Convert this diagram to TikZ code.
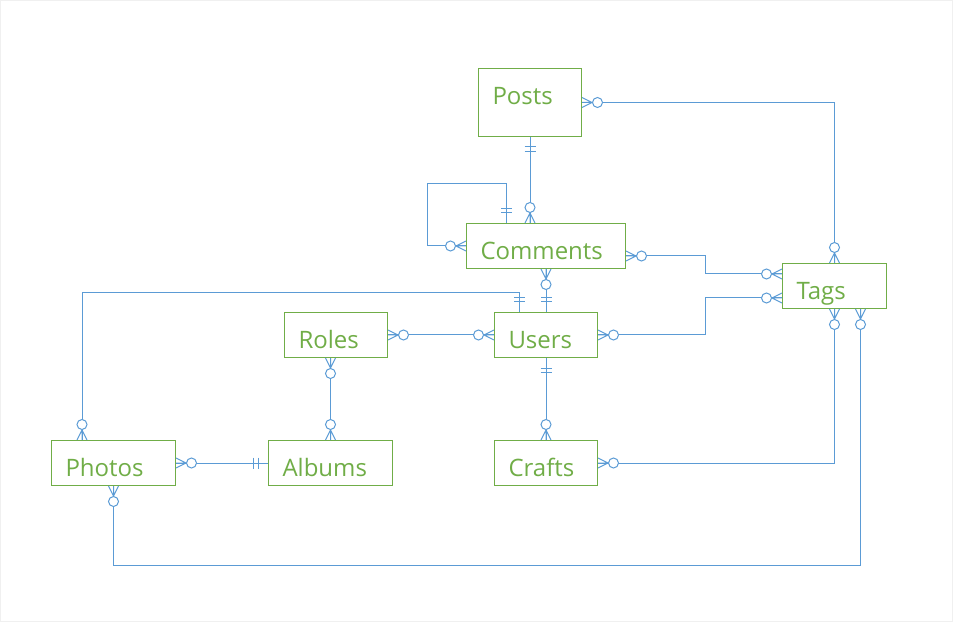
\documentclass[tikz,border=0pt]{standalone}
\usepackage{fontspec}
\setmainfont{Open Sans}
\usepackage{tikz}
\definecolor{entgreen}{RGB}{112,173,71}
\definecolor{relblue}{RGB}{91,155,213}
\tikzstyle{entity} = [rectangle, anchor=north west, draw=entgreen, line width=1pt, text=entgreen, font=\fontsize{24}{27}\selectfont, inner xsep=14pt, inner ysep=0pt, text height=27pt, text depth=0pt, minimum height=45pt, align=left]
\tikzstyle{rel} = [draw=relblue, line width=1pt]
\tikzset{
  crowzero/.pic={\draw[rel] (0pt,5pt) -- (10pt,0pt) -- (0pt,-5pt) (0pt,0pt) -- (10pt,0pt);
                 \draw[rel, fill=white] (15.5pt,0pt) circle (5pt);},
  bartwo/.pic={\draw[rel] (10pt,-5.5pt) -- (10pt,5.5pt) (14.5pt,-5.5pt) -- (14.5pt,5.5pt);}
}
\begin{document}
\begin{tikzpicture}[x=1pt, y=1pt]
\useasboundingbox (0,0) rectangle (953,622);
\draw [black!6] (0.5,0.5) rectangle (952.5,621.5);

\node (posts) [entity, text width=75pt, minimum height=68pt, text depth=23pt] at (478,554) {Posts};
\node (comments) [entity, text width=131pt] at (466,399) {Comments};
\node (tags) [entity, text width=76pt] at (782,359) {Tags};
\node (roles) [entity, text width=75pt] at (284,310) {Roles};
\node (users) [entity, text width=75pt] at (494,310) {Users};
\node (photos) [entity, text width=96pt] at (51,182) {Photos};
\node (albums) [entity, text width=96pt] at (268,182) {Albums};
\node (crafts) [entity, text width=75pt] at (494,182) {Crafts};

% connector ends that are not anchors
\coordinate (cm-top) at (posts.south |- comments.north);
\coordinate (cm-self) at ([xshift=40pt]comments.north west);
\coordinate (cm-right) at ([yshift=-10pt]comments.east);
\coordinate (tg-up) at ([yshift=12pt]tags.west);
\coordinate (tg-low) at ([yshift=-12pt]tags.west);
\coordinate (tg-bottom) at ([xshift=26pt]tags.south);
\coordinate (us-left) at ([xshift=25pt]users.north west);
\coordinate (ph-top) at ([xshift=31pt]photos.north west);
\coordinate (ro-bottom) at (albums.north |- roles.south);

\draw [rel] (posts.east) -| (tags.north);
\draw [rel] (posts.south) -- (cm-top);
\draw [rel] (cm-self) -- ++(0,39) -| ([xshift=-39pt]comments.west) -- (comments.west);
\draw [rel] (cm-right) -- ++(79,0) |- (tg-up);
\draw [rel] (comments.south) -- (users.north);
\draw [rel] (us-left) -- ++(0,19) -| (ph-top);
\draw [rel] (roles.east) -- (users.west);
\draw [rel] (users.east) -- ++(107,0) |- (tg-low);
\draw [rel] (users.south) -- (crafts.north);
\draw [rel] (ro-bottom) -- (albums.north);
\draw [rel] (photos.east) -- (albums.west);
\draw [rel] (crafts.east) -| (tags.south);
\draw [rel] (photos.south) -- ++(0,-79) -| (tg-bottom);

% line ends
\pic [rotate=0] at (posts.east) {crowzero};
\pic [rotate=90] at (tags.north) {crowzero};
\pic [rotate=270] at (posts.south) {bartwo};
\pic [rotate=90] at (cm-top) {crowzero};
\pic [rotate=90] at (cm-self) {bartwo};
\pic [rotate=180] at (comments.west) {crowzero};
\pic [rotate=0] at (cm-right) {crowzero};
\pic [rotate=180] at (tg-up) {crowzero};
\pic [rotate=270] at (comments.south) {crowzero};
\pic [rotate=90] at (users.north) {bartwo};
\pic [rotate=90] at (us-left) {bartwo};
\pic [rotate=90] at (ph-top) {crowzero};
\pic [rotate=0] at (roles.east) {crowzero};
\pic [rotate=180] at (users.west) {crowzero};
\pic [rotate=0] at (users.east) {crowzero};
\pic [rotate=180] at (tg-low) {crowzero};
\pic [rotate=270] at (users.south) {bartwo};
\pic [rotate=90] at (crafts.north) {crowzero};
\pic [rotate=270] at (ro-bottom) {crowzero};
\pic [rotate=90] at (albums.north) {crowzero};
\pic [rotate=0] at (photos.east) {crowzero};
\pic [rotate=180] at (albums.west) {bartwo};
\pic [rotate=0] at (crafts.east) {crowzero};
\pic [rotate=270] at (tags.south) {crowzero};
\pic [rotate=270] at (photos.south) {crowzero};
\pic [rotate=270] at (tg-bottom) {crowzero};

\end{tikzpicture}
\end{document}
